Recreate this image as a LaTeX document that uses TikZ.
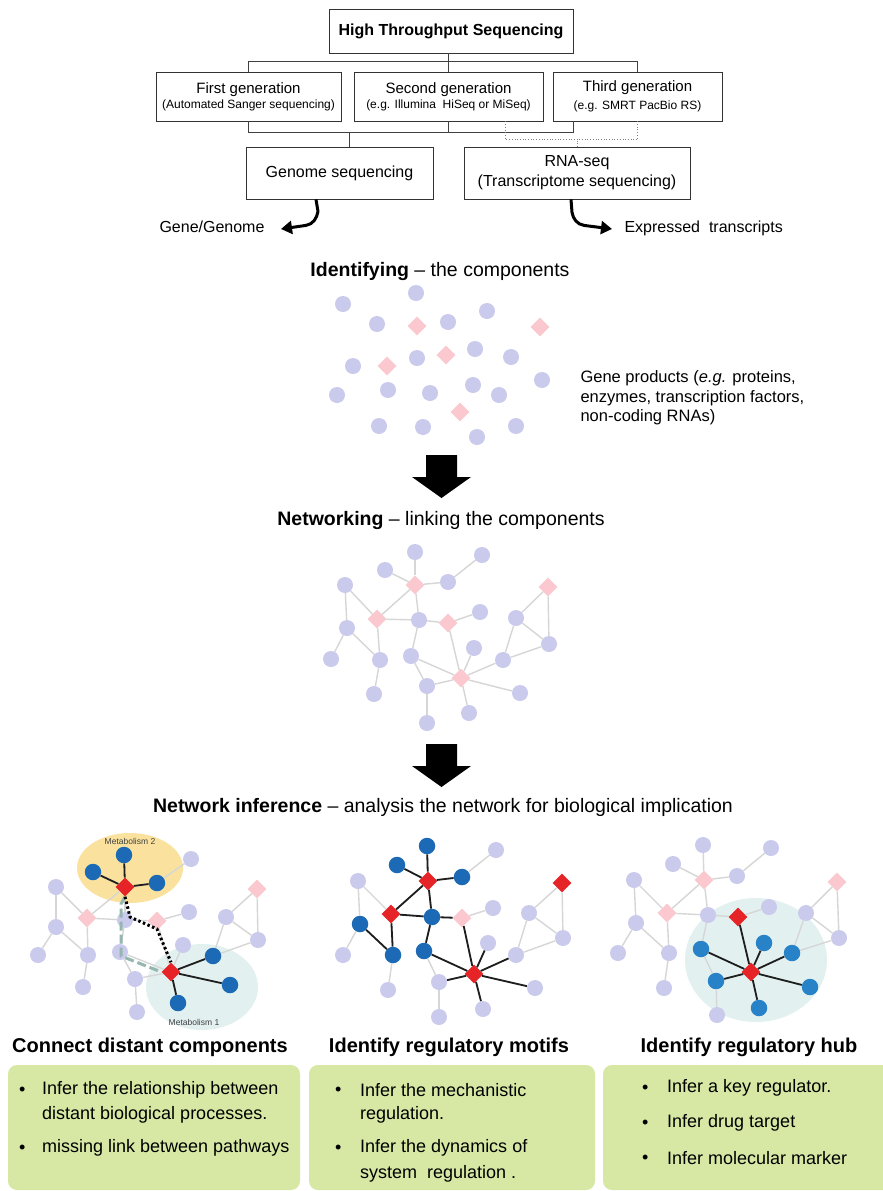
\documentclass[tikz,border=0pt]{standalone}
\usepackage{fontspec}
\setmainfont{Liberation Sans}
\usetikzlibrary{shapes.geometric,arrows.meta}
\definecolor{lav}{RGB}{201,202,236}
\definecolor{pinkd}{RGB}{250,200,206}
\definecolor{nblue}{RGB}{28,106,182}
\definecolor{nbluer}{RGB}{40,130,200}
\definecolor{redd}{RGB}{230,36,40}
\definecolor{edgegray}{RGB}{214,214,214}
\definecolor{darkedge}{RGB}{30,30,30}
\definecolor{yel}{RGB}{250,226,158}
\definecolor{cyanl}{RGB}{226,241,240}
\definecolor{gboxc}{RGB}{214,232,163}
\definecolor{dashteal}{RGB}{150,182,176}
\newcommand\netedges[1]{%
  \foreach \a/\b in {n1/D1,n3/D1,D1/n4,n4/n2,D1/D3,D1/n6,n5/D3,n5/n9,D3/n6,D3/n13,n6/D4,D4/n7,D4/D5,n6/n14,n9/n12,n9/n13,n13/n18,n14/D5,n14/n16,n16/D5,n16/n20,n11/D5,D5/n15,D5/n17,D5/n19,n15/n8,n8/D2,D2/n10,n8/n10,n15/n10}
    \draw[le] (#1\a) -- (#1\b);}
\begin{document}
\begin{tikzpicture}[x=1pt,y=-1pt,
  tbox/.style={draw=black!80, line width=0.8pt, inner sep=0pt, align=center},
  lc/.style={circle, fill=lav, minimum size=16pt, inner sep=0pt},
  ld/.style={diamond, fill=pinkd, minimum size=19pt, inner sep=0pt},
  bc/.style={circle, fill=nblue, minimum size=16.5pt, inner sep=0pt},
  bcr/.style={circle, fill=nbluer, minimum size=16.5pt, inner sep=0pt},
  rd/.style={diamond, fill=redd, minimum size=19pt, inner sep=0pt},
  le/.style={draw=edgegray, line width=1.4pt},
  de/.style={draw=darkedge, line width=1.8pt},
  conn/.style={draw=black!75, line width=0.8pt},
  dotconn/.style={draw=black!50, dotted, line width=0.7pt},
  bigarr/.style={line width=3pt, line join=round, -{Triangle[length=11pt,width=13pt]}},
  head/.style={font=\fontsize{19.5}{23}\selectfont},
  ttl/.style={font=\fontsize{20}{24}\selectfont\bfseries},
  gbx/.style={fill=gboxc, rounded corners=9pt, inner sep=0pt},
  btxt/.style={anchor=west, font=\fontsize{18}{22}\selectfont, inner sep=0pt},
  dotpath/.style={draw=black, line width=3pt, dash pattern=on 2.5pt off 2.5pt},
  dashpath/.style={draw=dashteal, line width=3pt, dash pattern=on 9pt off 4pt},
  mlab/.style={font=\fontsize{8.5}{10}\selectfont, text=black!75}
]
\useasboundingbox (0,0) rectangle (883,1191);
\fill[white] (0,0) rectangle (883,1191);

% ---------- top hierarchy ----------
\node[tbox, minimum width=244pt, minimum height=44pt, font=\fontsize{16}{19}\selectfont\bfseries] (hts) at (451,31) {High Throughput Sequencing};
\node[tbox, minimum width=185pt, minimum height=49pt] (first) at (248.5,96.5)
  {\fontsize{15}{18}\selectfont First generation\\[3pt]\fontsize{12}{14}\selectfont (Automated Sanger sequencing)};
\node[tbox, minimum width=189pt, minimum height=49pt] (sec) at (448.5,96.5)
  {\fontsize{15}{18}\selectfont Second generation\\[3pt]\fontsize{12}{14}\selectfont (e.g. Illumina\ \ HiSeq or MiSeq)};
\node[tbox, minimum width=169pt, minimum height=49pt] (third) at (637.5,96.5)
  {\fontsize{15}{18}\selectfont Third generation\\[6pt]\fontsize{12}{14}\selectfont (e.g. SMRT PacBio RS)};
\node[tbox, minimum width=187pt, minimum height=52pt, font=\fontsize{16}{19}\selectfont] (gen) at (339.5,173) {Genome sequencing};
\node[tbox, minimum width=226pt, minimum height=52pt, font=\fontsize{16}{20}\selectfont] (rna) at (577,173) {RNA-seq\\(Transcriptome sequencing)};

\draw[conn] (sec.north |- hts.south) -- (sec.north);
\draw[conn] (first.north) -- ++(0,-10) -| (third.north);
\draw[conn] (first.south) -- ++(0,11) -| ([xshift=-64.5pt]third.south);
\draw[conn] (sec.south) -- ++(0,11);
\draw[conn] ([xshift=10pt]gen.north) -- ++(0,-15);
\draw[dotconn] ([xshift=57pt]sec.south) -- ++(0,18) -| (third.south);
\draw[dotconn] (rna.north) -- ++(0,-8);

\coordinate (gtip) at (281,229);
\coordinate (etip) at (612,229);
\draw[bigarr] ([xshift=-23.5pt]gen.south) -- ++(2,12) to[out=-100,in=10] ++(-12,14) -- (gtip);
\draw[bigarr] ([xshift=-6pt]rna.south) -- ++(1,13) to[out=-80,in=170] ++(12,13) -- (etip);
\node[anchor=east, font=\fontsize{16}{19}\selectfont] (gg) at (268,227) {Gene/Genome};
\node[anchor=west, font=\fontsize{16}{19}\selectfont] (et) at (621,228) {Expressed\ \ transcripts};

% ---------- identifying ----------
\node[head] (h1) at (440,271) {\textbf{Identifying} \textendash{} the components};
\foreach \n/\x/\y in {1/343/304,2/416/293,3/487/311,4/377/324,5/448/322,6/475/349,7/417/358,8/511/357,9/353/366,10/542/380,11/337/395,12/388/390,13/430/393,14/473/385,15/499/395,16/379/426,17/423/427,18/516/426,19/477/437}
  \node[lc] (Ic\n) at (\x,\y) {};
\foreach \n/\x/\y in {1/417/326,2/540/327,3/446/355,4/387/366,5/460/412}
  \node[ld] (Id\n) at (\x,\y) {};
\node[anchor=west, align=left, font=\fontsize{16.5}{19.5}\selectfont] (gp) at (577,398)
  {Gene products (\textit{e.g.} proteins,\\enzymes, transcription factors,\\non-coding RNAs)};

\fill (426,455) -- (457,455) -- (457,477) -- (471,477) -- (441.5,498) -- (412,477) -- (426,477) -- cycle;

% ---------- networking ----------
\node[head] (h2) at (441,520) {\textbf{Networking} \textendash{} linking the components};
\foreach \n/\x/\y/\s in {n1/415/552/lc,n2/482/555/lc,n3/385/570/lc,D1/415/585/ld,n4/448/582/lc,n5/345/585/lc,D2/548/587/ld,D3/377/619/ld,n6/419/620/lc,D4/448/623/ld,n7/480/612/lc,n8/516/618/lc,n9/347/628/lc,n10/549/644/lc,n11/474/648/lc,n12/331/659/lc,n13/380/660/lc,n14/411/656/lc,n15/503/660/lc,D5/461/678/ld,n16/427/686/lc,n17/520/693/lc,n18/374/694/lc,n19/469/713/lc,n20/427/723/lc}
  \node[\s] (P\n) at (\x,\y) {};
\netedges{P}

\fill (426,744) -- (457,744) -- (457,766) -- (471,766) -- (441.5,787) -- (412,766) -- (426,766) -- cycle;

% ---------- network inference ----------
\node[head] (h3) at (443,807) {\textbf{Network inference} \textendash{} analysis the network for biological implication};

% left network
\node[ellipse, fill=yel, minimum width=106pt, minimum height=70pt, inner sep=0pt] (m2) at (130,868) {};
\node[ellipse, fill=cyanl, minimum width=112pt, minimum height=86pt, inner sep=0pt] (m1) at (202,987) {};
\node[mlab] (m2l) at (130,841) {Metabolism 2};
\node[mlab] (m1l) at (194,1022) {Metabolism 1};
\foreach \n/\x/\y/\s in {n1/124/855/bc,n2/191/859/lc,n3/93/872/bc,D1/125/887/rd,n4/157/883/bc,n5/56/887/lc,D2/257/889/ld,D3/87/918/ld,n6/125/920/lc,D4/157/921/ld,n7/189/912/lc,n8/226/917/lc,n9/56/927/lc,n10/258/940/lc,n11/183/945/lc,n12/38/955/lc,n13/88/955/lc,n14/120/952/lc,n15/213/956/bc,D5/171/972/rd,n16/135/979/lc,n17/230/985/bc,n18/83/987/lc,n19/178/1003/bc,n20/137/1012/lc}
  \node[\s] (L\n) at (\x,\y) {};
\netedges{L}
\foreach \a/\b in {n1/D1,n3/D1,D1/n4,D5/n15,D5/n17,D5/n19}
  \draw[de] (L\a) -- (L\b);
\coordinate (Lp1) at (130,917);
\coordinate (Lp2) at (157,929);
\coordinate (Lq1) at (121,904);
\coordinate (Lq2) at (121,956);
\draw[dashpath] (LD1.south) -- (Lq1) -- (Lq2) -- (LD5.west);
\draw[dotpath] (LD1.south) -- (Lp1) -- (Lp2) -- (LD5.north);

% middle network
\foreach \n/\x/\y/\s in {n1/427/846/bc,n2/496/850/lc,n3/397/865/bc,D1/428/881/rd,n4/462/877/bc,n5/358/881/lc,D2/562/883/rd,D3/391/914/rd,n6/432/917/bc,D4/462/918/ld,n7/493/908/lc,n8/529/913/lc,n9/360/924/bc,n10/563/938/lc,n11/488/943/lc,n12/343/955/lc,n13/393/955/bc,n14/424/951/bc,n15/516/955/lc,D5/474/974/rd,n16/439/982/lc,n17/535/988/lc,n18/388/990/lc,n19/483/1009/lc,n20/439/1017/lc}
  \node[\s] (M\n) at (\x,\y) {};
\netedges{M}
\foreach \a/\b in {n1/D1,n3/D1,D1/n4,D1/D3,D1/n6,D3/n6,D3/n13,n9/n13,n6/D4,n6/n14,n14/D5,D4/D5,D5/n16,D5/n11,D5/n15,D5/n17,D5/n19}
  \draw[de] (M\a) -- (M\b);

% right network
\node[ellipse, fill=cyanl, minimum width=142pt, minimum height=124pt, inner sep=0pt] (hub) at (756,960) {};
\foreach \n/\x/\y/\s in {n1/703/845/lc,n2/771/848/lc,n3/673/864/lc,D1/704/880/ld,n4/737/876/lc,n5/634/880/lc,D2/837/882/ld,D3/667/913/ld,n6/708/915/lc,D4/738/917/rd,n7/769/907/lc,n8/806/913/lc,n9/636/923/lc,n10/839/938/lc,n11/764/943/bcr,n12/618/953/lc,n13/669/953/lc,n14/701/949/bcr,n15/792/953/bcr,D5/751/972/rd,n16/716/981/bcr,n17/810/987/bcr,n18/664/988/lc,n19/759/1008/bcr,n20/717/1015/lc}
  \node[\s] (R\n) at (\x,\y) {};
\netedges{R}
\foreach \a/\b in {D4/D5,D5/n14,D5/n16,D5/n11,D5/n15,D5/n17,D5/n19}
  \draw[de] (R\a) -- (R\b);

% ---------- titles and boxes ----------
\node[ttl] (t1) at (150,1047) {Connect distant components};
\node[ttl] (t2) at (449,1047) {Identify regulatory motifs};
\node[ttl] (t3) at (749,1047) {Identify regulatory hub};

\node[gbx, minimum width=292pt, minimum height=125pt] (g1) at (154,1127.5) {};
\node[gbx, minimum width=286pt, minimum height=125pt] (g2) at (452,1127.5) {};
\node[gbx, minimum width=290pt, minimum height=125pt] (g3) at (748,1127.5) {};

\node[btxt] (b1a) at (19,1091) {\textbullet};
\node[btxt] (l1a) at (42,1090) {Infer the relationship between};
\node[btxt] (l1b) at (42,1115) {distant biological processes.};
\node[btxt] (b1b) at (19,1149) {\textbullet};
\node[btxt] (l1c) at (42,1148) {missing link between pathways};

\node[btxt] (b2a) at (335,1091) {\textbullet};
\node[btxt] (l2a) at (360,1090) {Infer the mechanistic};
\node[btxt] (l2b) at (360,1115) {regulation.};
\node[btxt] (b2b) at (335,1149) {\textbullet};
\node[btxt] (l2c) at (360,1148) {Infer the dynamics of};
\node[btxt] (l2d) at (360,1174) {system\ \ regulation .};

\node[btxt] (b3a) at (642,1089) {\textbullet};
\node[btxt] (l3a) at (667,1088) {Infer a key regulator.};
\node[btxt] (b3b) at (642,1124) {\textbullet};
\node[btxt] (l3b) at (667,1123) {Infer drug target};
\node[btxt] (b3c) at (642,1159) {\textbullet};
\node[btxt] (l3c) at (667,1158) {Infer molecular marker};
\end{tikzpicture}
\end{document}
